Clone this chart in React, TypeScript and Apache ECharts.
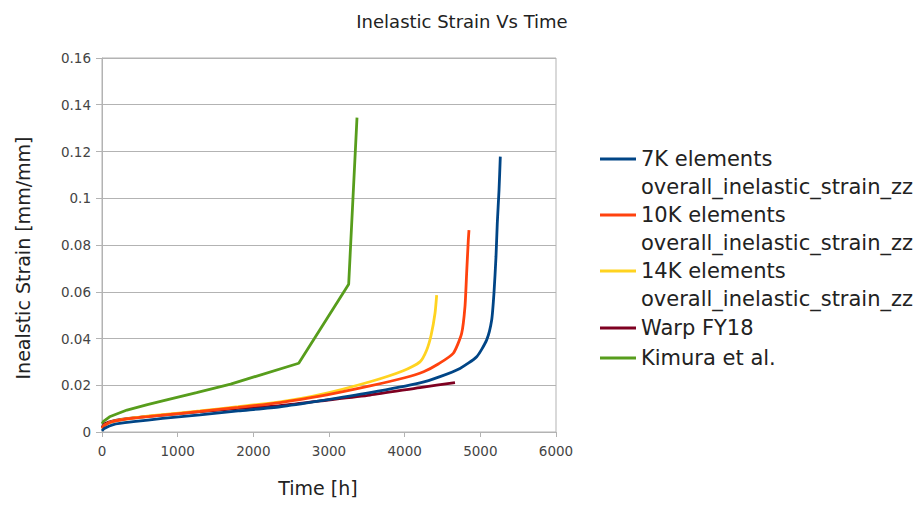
import React, { useEffect, useRef } from "react";
import * as echarts from "echarts";

const seriesNames = [
  "7K elements\noverall_inelastic_strain_zz",
  "10K elements\noverall_inelastic_strain_zz",
  "14K elements\noverall_inelastic_strain_zz",
  "Warp FY18",
  "Kimura et al.",
];
const seriesColors = ["#004586", "#ff420e", "#ffd320", "#7e0021", "#579d1c"];

const blue7k: [number, number][] = [
  [0, 0.0005], [30, 0.0015], [150, 0.0032], [414, 0.0044], [800, 0.0058], [1295, 0.0073],
  [1800, 0.009], [2352, 0.0108], [2881, 0.0133], [3542, 0.0168], [4202, 0.021],
  [4467, 0.0237], [4731, 0.0272], [4952, 0.0322], [5084, 0.0394], [5150, 0.0479],
  [5180, 0.0593], [5207, 0.075], [5224, 0.0893], [5247, 0.1035], [5264, 0.1178],
];
const red10k: [number, number][] = [
  [0, 0.0015], [40, 0.003], [150, 0.0045], [414, 0.0059], [800, 0.0072], [1295, 0.0088],
  [1800, 0.0105], [2352, 0.0126], [2881, 0.0153], [3542, 0.0197], [4000, 0.0232],
  [4250, 0.0258], [4450, 0.0292], [4643, 0.0337], [4753, 0.0422], [4797, 0.0536],
  [4819, 0.0679], [4841, 0.0821], [4850, 0.0864],
];
const yellow14k: [number, number][] = [
  [0, 0.0015], [40, 0.003], [150, 0.0045], [414, 0.006], [800, 0.0074], [1295, 0.009],
  [1800, 0.0108], [2352, 0.0129], [2881, 0.016], [3542, 0.0215], [3982, 0.0262],
  [4202, 0.030], [4290, 0.035], [4350, 0.0415], [4401, 0.0508], [4423, 0.0586],
];
const warpFY18: [number, number][] = [
  [0, 0.002], [40, 0.0035], [150, 0.0048], [414, 0.006], [800, 0.0072], [1295, 0.0087],
  [1800, 0.0101], [2352, 0.0113], [2881, 0.0133], [3542, 0.0158], [4202, 0.019],
  [4665, 0.0211],
];
const kimura: [number, number][] = [
  [0, 0.0035], [20, 0.0045], [100, 0.0065], [330, 0.0094], [600, 0.0117], [855, 0.0137],
  [1250, 0.0168], [1700, 0.0205], [2600, 0.0294], [3260, 0.0632], [3370, 0.1345],
];
const seriesData = [blue7k, red10k, yellow14k, warpFY18, kimura];

const FONT = "DejaVu Sans";

export default function App() {
  const ref = useRef<HTMLDivElement>(null);
  useEffect(() => {
    if (!ref.current) return;
    const chart = echarts.init(ref.current, undefined, { renderer: "svg" });
    const richA = { fontFamily: FONT, fontSize: 21, lineHeight: 28, color: "#222" };
    chart.setOption({
      animation: false,
      backgroundColor: "#ffffff",
      title: {
        text: "Inelastic Strain Vs Time",
        left: "center",
        top: 7,
        textStyle: { fontFamily: FONT, fontSize: 18, fontWeight: "normal", color: "#222" },
      },
      grid: {
        left: 102,
        right: 368,
        top: 58,
        bottom: 74,
        show: true,
        borderColor: "#b3b3b3",
        borderWidth: 1,
        containLabel: false,
      },
      legend: [
        {
          data: seriesNames.slice(0, 3),
          orient: "vertical",
          left: 600,
          top: 117,
          padding: 0,
          icon: "rect",
          itemWidth: 36,
          itemHeight: 3,
          itemGap: -28,
          formatter: (name: string) =>
            name
              .split("\n")
              .map((s) => `{a|${s}}`)
              .join("\n"),
          textStyle: {
            fontFamily: FONT,
            fontSize: 21,
            lineHeight: 28,
            color: "#222",
            padding: [28, 0, 0, 0],
            rich: { a: richA },
          },
        },
        {
          data: seriesNames.slice(3),
          orient: "vertical",
          left: 600,
          top: 314,
          padding: 0,
          icon: "rect",
          itemWidth: 36,
          itemHeight: 3,
          itemGap: 2,
          textStyle: { fontFamily: FONT, fontSize: 21, lineHeight: 28, color: "#222" },
        },
      ],
      xAxis: {
        type: "value",
        min: 0,
        max: 6000,
        interval: 1000,
        name: "Time [h]",
        nameLocation: "middle",
        nameGap: 46,
        nameTextStyle: { fontFamily: FONT, fontSize: 19, color: "#222", padding: [0, 22, 0, 0] },
        axisLine: { show: true, lineStyle: { color: "#b3b3b3", width: 1 } },
        axisTick: { show: true, length: 5, lineStyle: { color: "#b3b3b3" } },
        axisLabel: {
          fontFamily: FONT,
          fontSize: 13.5,
          color: "#444",
          margin: 12,
          formatter: (v: number) => String(v),
        },
        splitLine: { show: false },
      },
      yAxis: {
        type: "value",
        min: 0,
        max: 0.16,
        interval: 0.02,
        name: "Inealstic Strain [mm/mm]",
        nameLocation: "middle",
        nameGap: 70,
        nameTextStyle: { fontFamily: FONT, fontSize: 19, color: "#222", padding: [0, 26, 0, 0] },
        axisLine: { show: true, lineStyle: { color: "#b3b3b3", width: 1 } },
        axisTick: { show: true, length: 6, lineStyle: { color: "#b3b3b3" } },
        axisLabel: { fontFamily: FONT, fontSize: 13.5, color: "#444", margin: 11 },
        splitLine: { show: true, lineStyle: { color: "#b3b3b3", width: 1 } },
      },
      series: seriesNames.map((name, i) => ({
        name,
        type: "line",
        data: seriesData[i],
        symbol: "none",
        smooth: i === 4 ? false : 0.2,
        color: seriesColors[i],
        lineStyle: { width: 2.8, color: seriesColors[i] },
        z: 10 - i,
      })),
    });
    return () => chart.dispose();
  }, []);
  return <div ref={ref} style={{ width: 924, height: 506, position: "absolute", left: 0, top: 0 }} />;
}
